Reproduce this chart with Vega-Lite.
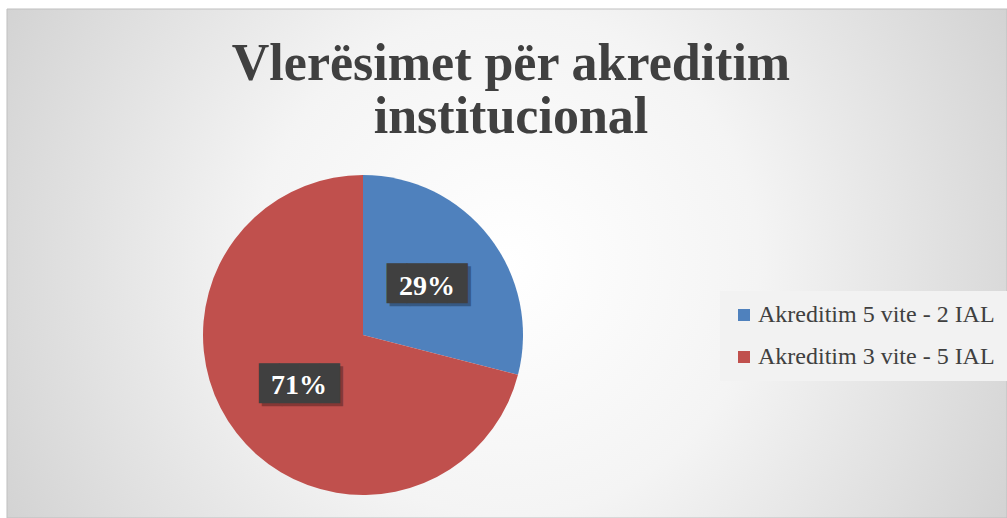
{
  "$schema": "https://vega.github.io/schema/vega-lite/v6.json",
  "width": 1000,
  "height": 509,
  "autosize": {"type": "none"},
  "padding": {"left": 7, "top": 9, "right": 0, "bottom": 0},
  "background": "#ffffff",
  "title": {
    "text": ["Vlerësimet për akreditim", "institucional"],
    "font": "Liberation Serif",
    "fontSize": 52,
    "fontWeight": "bold",
    "color": "#404040",
    "lineHeight": 53,
    "anchor": "middle",
    "offset": -135,
    "dx": 4
  },
  "config": {"view": {"stroke": null}},
  "layer": [
    {
      "data": {"values": [{"sfond": "sfond"}]},
      "mark": {
        "type": "rect",
        "stroke": "#bfbfbf",
        "strokeWidth": 1,
        "fill": {
          "gradient": "radial",
          "x1": 0.5, "y1": 0.5, "r1": 0,
          "x2": 0.5, "y2": 0.5, "r2": 0.72,
          "stops": [
            {"offset": 0, "color": "#ffffff"},
            {"offset": 0.35, "color": "#f4f4f4"},
            {"offset": 1, "color": "#c2c2c2"}
          ]
        }
      },
      "encoding": {}
    },
    {
      "data": {
        "values": [
          {"kategoria": "Akreditim 5 vite - 2 IAL", "vlera": 29, "etiketa": "29%", "renditja": 1},
          {"kategoria": "Akreditim 3 vite - 5 IAL", "vlera": 71, "etiketa": "71%", "renditja": 2}
        ]
      },
      "encoding": {
        "theta": {"field": "vlera", "type": "quantitative", "stack": true},
        "order": {"field": "renditja", "type": "quantitative"}
      },
      "layer": [
        {
          "mark": {"type": "arc", "outerRadius": 160, "xOffset": -144, "yOffset": 71.5},
          "encoding": {
            "color": {
              "field": "kategoria",
              "type": "nominal",
              "sort": ["Akreditim 5 vite - 2 IAL", "Akreditim 3 vite - 5 IAL"],
              "scale": {"domain": ["Akreditim 5 vite - 2 IAL", "Akreditim 3 vite - 5 IAL"], "range": ["#4f81bd", "#c0504d"]},
              "legend": {
                "title": null,
                "orient": "none",
                "legendX": 713,
                "legendY": 282,
                "fillColor": "#f2f2f2",
                "padding": 12,
                "symbolType": "square",
                "symbolSize": 144,
                "symbolStrokeWidth": 0,
                "labelFont": "Liberation Serif",
                "labelFontSize": 24,
                "labelColor": "#404040",
                "labelOffset": 2,
                "rowPadding": 18,
                "labelLimit": 400
              }
            }
          }
        },
        {
          "mark": {"type": "text", "radius": 81, "text": "████", "font": "DejaVu Sans Mono", "fontSize": 33.5, "align": "center", "baseline": "middle", "color": "#000000", "opacity": 0.3, "xOffset": -141, "yOffset": 74.5}
        },
        {
          "mark": {"type": "text", "radius": 81, "text": "████", "font": "DejaVu Sans Mono", "fontSize": 33.5, "align": "center", "baseline": "middle", "color": "#404040", "xOffset": -144, "yOffset": 71.5}
        },
        {
          "mark": {"type": "text", "radius": 81, "font": "Liberation Serif", "fontSize": 28, "fontWeight": "bold", "align": "center", "baseline": "middle", "color": "#ffffff", "xOffset": -144, "yOffset": 73},
          "encoding": {"text": {"field": "etiketa", "type": "nominal"}}
        }
      ]
    }
  ]
}
